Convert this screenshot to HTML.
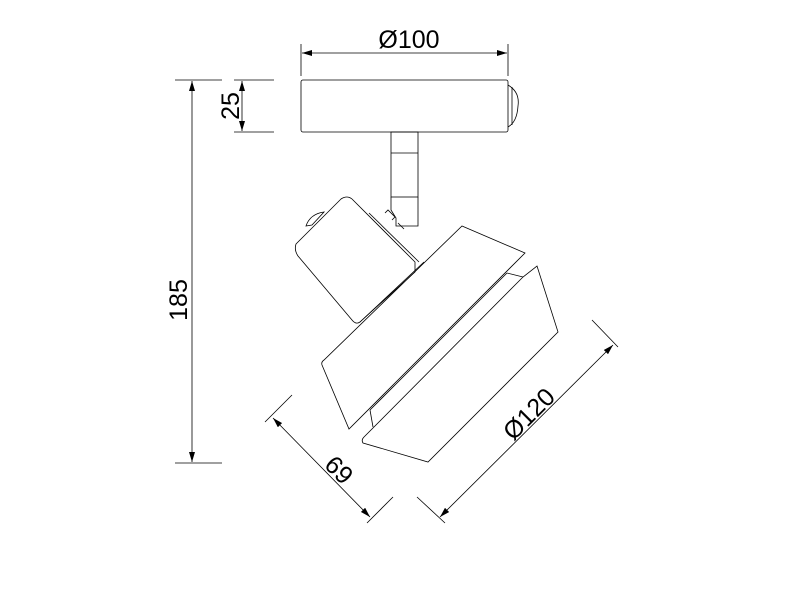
<!DOCTYPE html>
<html><head><style>html,body{margin:0;padding:0;background:#fff}</style></head><body>
<svg width="800" height="600" viewBox="0 0 800 600" xmlns="http://www.w3.org/2000/svg" font-family="Liberation Sans, sans-serif">
<defs>
<marker id="a" viewBox="0 0 10 6" refX="10" refY="3" markerWidth="10" markerHeight="6" markerUnits="userSpaceOnUse" orient="auto-start-reverse"><path d="M0,0 L10,3 L0,6 z" fill="#000"/></marker>
</defs>
<g stroke="#000" stroke-width="0.8" fill="none">
<line x1="301" y1="44" x2="301" y2="76"/>
<line x1="508" y1="44" x2="508" y2="76"/>
<line x1="302" y1="53" x2="507" y2="53" marker-start="url(#a)" marker-end="url(#a)"/>
<line x1="175" y1="80" x2="222" y2="80"/>
<line x1="175" y1="463" x2="222" y2="463"/>
<line x1="192" y1="81" x2="192" y2="462" marker-start="url(#a)" marker-end="url(#a)"/>
<line x1="234" y1="80" x2="274" y2="80"/>
<line x1="234" y1="132" x2="274" y2="132"/>
<line x1="242" y1="81" x2="242" y2="131" marker-start="url(#a)" marker-end="url(#a)"/>
<line x1="265" y1="422" x2="292" y2="395"/>
<line x1="367" y1="523" x2="393" y2="497"/>
<line x1="273" y1="418" x2="370" y2="517" marker-start="url(#a)" marker-end="url(#a)"/>
<line x1="417" y1="497" x2="445" y2="523"/>
<line x1="592" y1="320" x2="618" y2="347"/>
<line x1="440" y1="517" x2="613" y2="345" marker-start="url(#a)" marker-end="url(#a)"/>
<rect x="301" y="80" width="207" height="52" rx="2"/>
<path d="M508,85 Q520,92 518,106 Q517,122 508,127"/>
<line x1="512" y1="87" x2="512" y2="125"/>
<rect x="391" y="132" width="27" height="65"/>
<line x1="391" y1="153" x2="418" y2="153"/>
<path d="M391,197 L391,210 L396,218 L396,226 L418,226 L418,197"/>
<path d="M296,244 L341,199 Q347,195 352,199 L415,262 L415,272 L360,322 Q356,325 352,320 L298,256 Q294,250 296,244 z"/>
<path d="M306,226 Q310,214 324,212 L312,225 z"/>
<line x1="369" y1="213" x2="419" y2="262"/>
<path d="M385,213 L388,210 L395,217 L392,220"/>
<line x1="398" y1="223" x2="404" y2="229"/>
<line x1="360" y1="322" x2="424" y2="262"/>
<path d="M462,226 L525,253 L349,429 L322,365 Q321,362 324,360 z"/>
<line x1="507" y1="273" x2="370" y2="410"/>
<path d="M537,266 L558,332 L428,462 L363,443 Q361,440 364,437 L523,277 z"/>
<line x1="507" y1="273" x2="523" y2="277"/>
<line x1="370" y1="410" x2="373" y2="427"/>
</g>
<g font-size="25" fill="#000" text-anchor="middle">
<text x="409" y="48">Ø100</text>
<text transform="translate(187,300) rotate(-90)">185</text>
<text transform="translate(239,106) rotate(-90)">25</text>
<text transform="translate(333,476) rotate(45)">69</text>
<text transform="translate(535,420) rotate(-45)">Ø120</text>
</g>
</svg>
</body></html>
